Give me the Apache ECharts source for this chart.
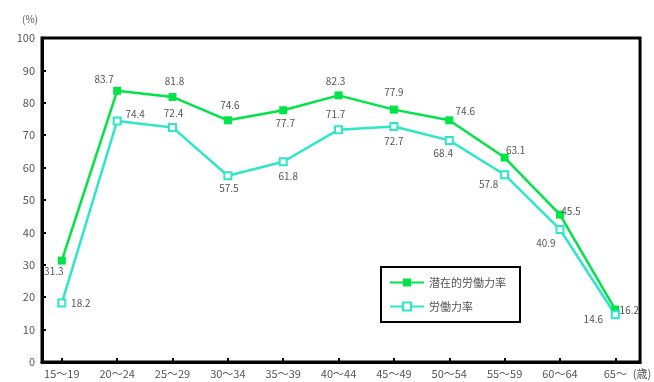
<!DOCTYPE html>
<html><head><meta charset="utf-8">
<script src="https://cdn.jsdelivr.net/npm/echarts@6/dist/echarts.min.js"></script>
<style>html,body{margin:0;padding:0;background:#fff}#c{width:654px;height:382px}</style>
</head><body><div id="c"></div>
<script>
const categories = ['15～19','20～24','25～29','30～34','35～39','40～44','45～49','50～54','55～59','60～64','65～'];
const potentialRate = [31.3, 83.7, 81.8, 74.6, 77.7, 82.3, 77.9, 74.6, 63.1, 45.5, 16.2];
const laborRate = [18.2, 74.4, 72.4, 57.5, 61.8, 71.7, 72.7, 68.4, 57.8, 40.9, 14.6];
const yTicks = [0,10,20,30,40,50,60,70,80,90,100];
const seriesNames = ['潜在的労働力率','労働力率'];

// label offsets (style only)
const greenOffsets = [[-8,11],[-13,-12],[2,-16],[2,-15],[2,13],[-3,-14],[0,-17],[16,-9],[11,-7],[11,-3],[14,1]];
const cyanOffsets = [[19,0],[18,-7],[1,-14],[1,13],[5,14],[-3,-15],[0,15],[-6,13],[-16,9],[-14,14],[-22,5]];

const font = '"Noto Sans CJK JP", "DejaVu Sans", sans-serif';
const txt = '#555';
function build(vals, offs){
  return vals.map((v,i)=>({value:[i,v], label:{offset:offs[i]}}));
}
const chart = echarts.init(document.getElementById('c'), null, {renderer:'canvas'});
chart.setOption({
  animation:false,
  textStyle:{fontFamily:font},
  grid:{left:42, top:38, right:8, bottom:20, show:true, borderColor:'#000', borderWidth:3},
  xAxis:{
    type:'value', min:-0.358, max:10.447,
    name:'(歳)', nameLocation:'end', nameGap:-11,
    nameTextStyle:{color:txt, fontSize:11, align:'left', verticalAlign:'top', padding:[6,0,0,0]},
    axisLine:{show:true, onZero:false, lineStyle:{color:'#000', width:3}},
    axisTick:{show:true, inside:true, length:4, lineStyle:{color:'#000', width:2}, customValues:categories.map((c,i)=>i)},
    axisLabel:{color:txt, fontSize:11, margin:6, customValues:categories.map((c,i)=>i), formatter:v=>categories[Math.round(v)]},
    splitLine:{show:false}
  },
  yAxis:{
    type:'value', min:yTicks[0], max:yTicks[yTicks.length-1], interval:10,
    name:'(%)', nameLocation:'end', nameGap:14,
    nameTextStyle:{color:txt, fontSize:10, align:'right', padding:[0,4,0,0]},
    axisLine:{show:true, onZero:false, lineStyle:{color:'#000', width:3}},
    axisTick:{show:true, inside:true, length:4, lineStyle:{color:'#000', width:2}},
    axisLabel:{color:txt, fontSize:11, margin:7},
    splitLine:{show:false}
  },
  legend:{
    left:381, top:267, orient:'vertical',
    borderColor:'#000', borderWidth:2, padding:[10,14,10,8],
    itemGap:13, itemWidth:34, itemHeight:10,
    textStyle:{color:txt, fontSize:11, fontFamily:font},
    data:seriesNames
  },
  series:[
    {name:seriesNames[0], type:'line', data:build(potentialRate, greenOffsets),
     symbol:'rect', symbolSize:8,
     lineStyle:{color:'#00e448', width:2.5}, itemStyle:{color:'#00e448'},
     label:{show:true, position:'inside', color:txt, fontSize:10, formatter:p=>p.value[1].toFixed(1)}},
    {name:seriesNames[1], type:'line', data:build(laborRate, cyanOffsets),
     symbol:'emptyRect', symbolSize:7,
     lineStyle:{color:'#2ee6c8', width:2.5}, itemStyle:{color:'#2ee6c8', borderWidth:2},
     label:{show:true, position:'inside', color:txt, fontSize:10, formatter:p=>p.value[1].toFixed(1)}}
  ]
});
</script>
</body></html>
